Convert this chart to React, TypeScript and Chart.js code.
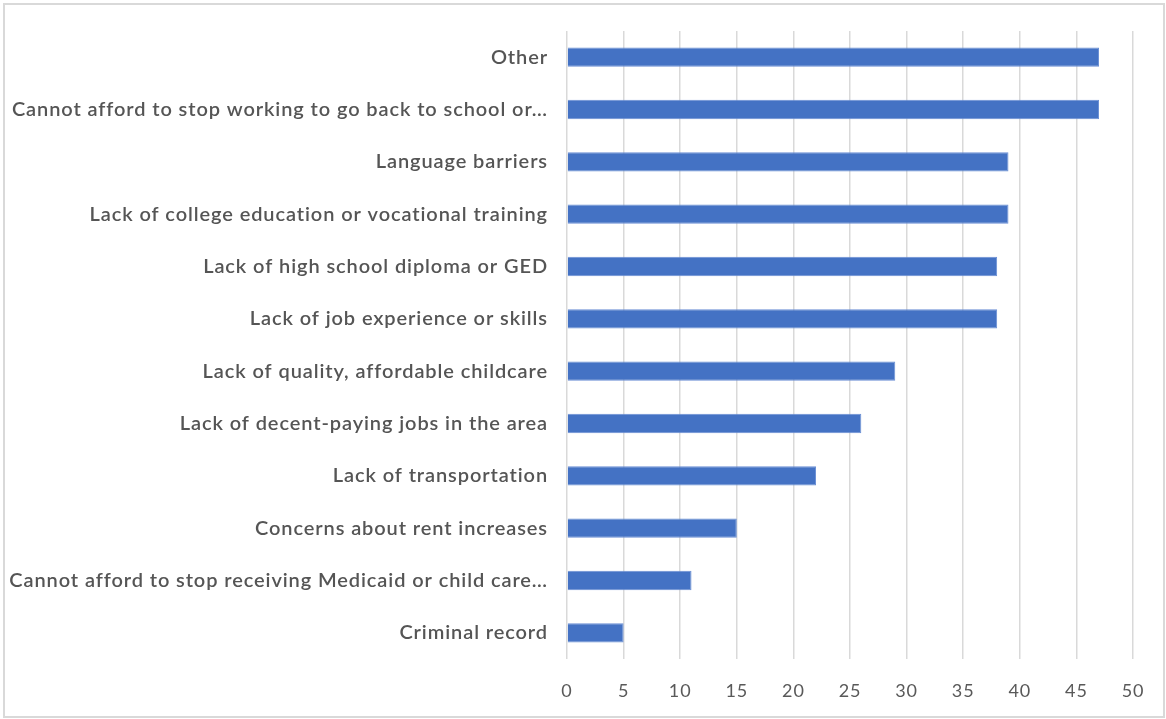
import React, { useEffect, useRef } from "react";
import { Chart, registerables } from "chart.js";

Chart.register(...registerables);

const categories: string[] = [
  "Other",
  "Cannot afford to stop working to go back to school or…",
  "Language barriers",
  "Lack of college education or vocational training",
  "Lack of high school diploma or GED",
  "Lack of job experience or skills",
  "Lack of quality, affordable childcare",
  "Lack of decent-paying jobs in the area",
  "Lack of transportation",
  "Concerns about rent increases",
  "Cannot afford to stop receiving Medicaid or child care…",
  "Criminal record",
];

const values: number[] = [47, 47, 39, 39, 38, 38, 29, 26, 22, 15, 11, 5];

const xMin = 0;
const xMax = 50;
const xStep = 5;

const FONT = "Lato, 'Open Sans', sans-serif";

const spacingPlugin = {
  id: "letterSpacing",
  beforeDraw(chart: any) {
    const ctx = chart.ctx as any;
    if ("letterSpacing" in ctx) ctx.letterSpacing = "0.9px";
  },
  afterDraw(chart: any) {
    const ctx = chart.ctx as any;
    if ("letterSpacing" in ctx) ctx.letterSpacing = "0px";
  },
};

export default function App() {
  const canvasRef = useRef<HTMLCanvasElement | null>(null);

  useEffect(() => {
    document.body.style.margin = "0";
    const canvas = canvasRef.current;
    if (!canvas) return;
    const chart = new Chart(canvas, {
      type: "bar",
      data: {
        labels: categories,
        datasets: [
          {
            data: values,
            backgroundColor: "#4472C4",
            borderColor: "#6a8fd4",
            borderWidth: 1,
            categoryPercentage: 1,
            barPercentage: 0.37,
          },
        ],
      },
      options: {
        indexAxis: "y",
        responsive: false,
        animation: false,
        maintainAspectRatio: false,
        layout: { padding: { top: 31, right: 33, bottom: 0, left: 0 } },
        plugins: {
          legend: { display: false },
          tooltip: { enabled: false },
        },
        scales: {
          x: {
            min: xMin,
            max: xMax,
            ticks: {
              stepSize: xStep,
              color: "#595959",
              padding: 21,
              font: { family: FONT, size: 18 },
            },
            grid: {
              color: "#d9d9d9",
              lineWidth: 1.5,
              drawTicks: false,
            },
            border: { display: false },
            afterFit: (scale: any) => {
              scale.height = 60;
            },
          },
          y: {
            ticks: {
              color: "#555555",
              padding: 19,
              font: { family: FONT, size: 20, weight: 600 },
            },
            grid: { display: false, drawTicks: false },
            border: { display: false },
            afterFit: (scale: any) => {
              scale.width = 567;
            },
          },
        },
      },
      plugins: [spacingPlugin],
    });
    return () => chart.destroy();
  }, []);

  return (
    <div style={{ position: "relative", width: 1166, height: 719, background: "#fff" }}>
      <canvas ref={canvasRef} width={1166} height={719} style={{ display: "block" }} />
      <div
        style={{
          position: "absolute",
          left: 3,
          top: 3,
          width: 1158,
          height: 711,
          border: "2px solid #d9d9d9",
          pointerEvents: "none",
        }}
      />
    </div>
  );
}
